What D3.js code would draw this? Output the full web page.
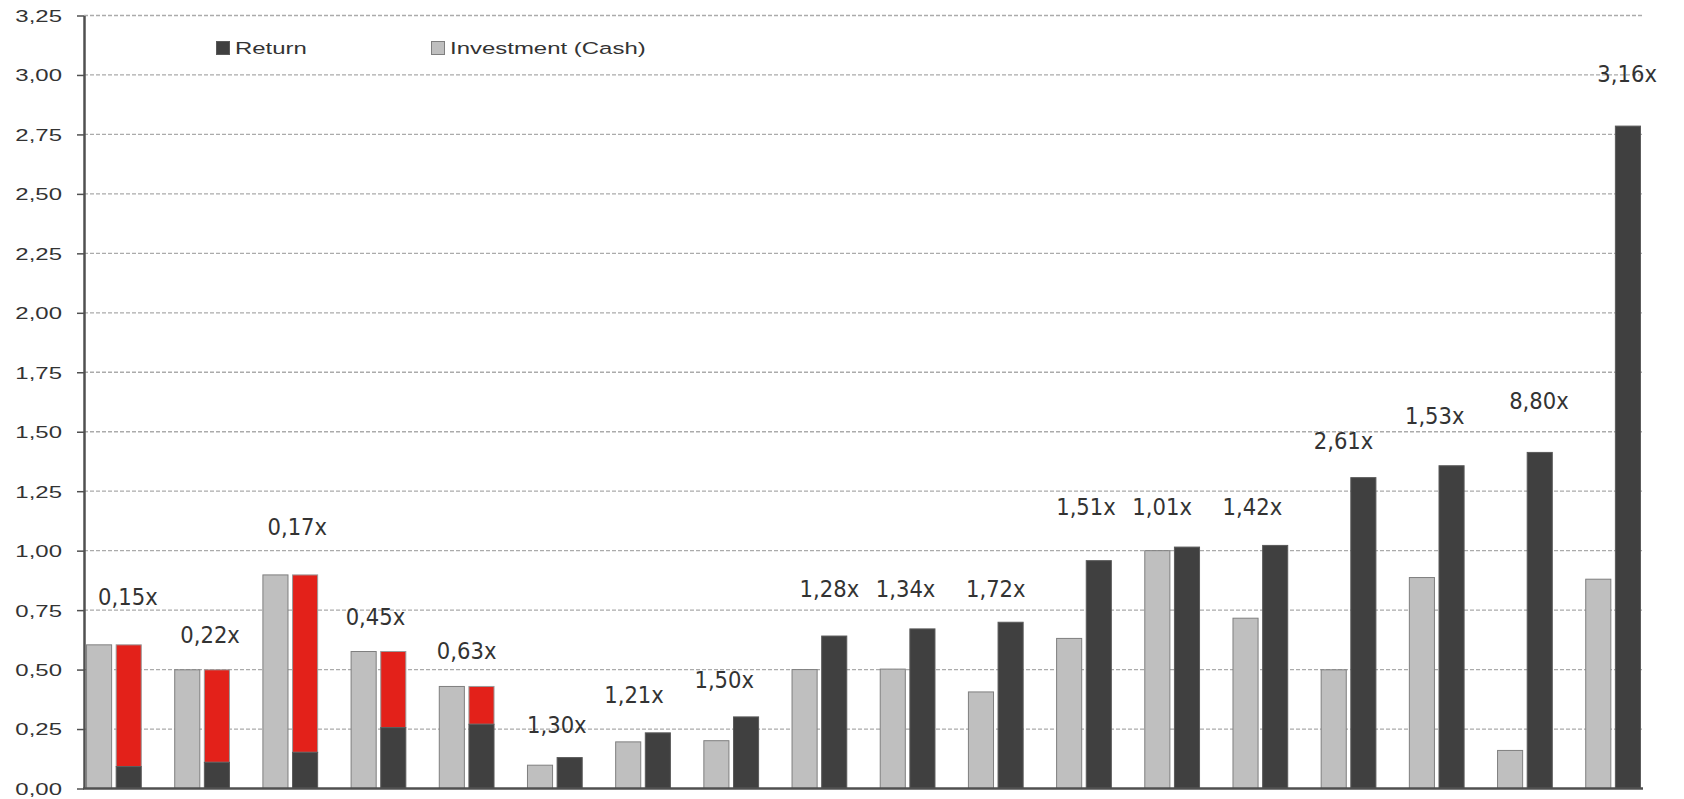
<!DOCTYPE html>
<html>
<head>
<meta charset="utf-8">
<script src="https://cdn.jsdelivr.net/npm/d3@7"></script>
<style>
  html, body { margin: 0; padding: 0; background: #fff; }
  svg { display: block; }
</style>
</head>
<body>
<svg id="chart" width="1684" height="799"></svg>
<script>
// ---------------- data ----------------
const categories = ["Deal 1","Deal 2","Deal 3","Deal 4","Deal 5","Deal 6","Deal 7","Deal 8","Deal 9",
                    "Deal 10","Deal 11","Deal 12","Deal 13","Deal 14","Deal 15","Deal 16","Deal 17","Deal 18"];
const investment = [0.604, 0.499, 0.898, 0.576, 0.429, 0.098, 0.196, 0.201, 0.500,
                    0.502, 0.406, 0.631, 1.000, 0.716, 0.499, 0.887, 0.160, 0.880];
const returns    = [0.092, 0.110, 0.152, 0.256, 0.270, 0.130, 0.234, 0.301, 0.641,
                    0.671, 0.699, 0.958, 1.015, 1.022, 1.307, 1.357, 1.413, 2.785];
const multiples  = ["0,15x","0,22x","0,17x","0,45x","0,63x","1,30x","1,21x","1,50x","1,28x",
                    "1,34x","1,72x","1,51x","1,01x","1,42x","2,61x","1,53x","8,80x","3,16x"];
const yTicks = [0, 0.25, 0.5, 0.75, 1, 1.25, 1.5, 1.75, 2, 2.25, 2.5, 2.75, 3, 3.25];
const seriesNames = ["Return", "Investment (Cash)"];

// ---------------- layout (manually placed data labels, like the original) ----------------
const labelLevel = [0.806, 0.649, 1.103, 0.722, 0.581, 0.270, 0.397, 0.459, 0.841,
                    0.841, 0.841, 1.187, 1.187, 1.187, 1.462, 1.569, 1.631, 3.007];
const labelNudge = [14, 8, 7, -3, 0, 2, -9, -7, 10, -2, 0, 2, -10, -8, -5, -2, 14, 14];

const colors = { invest: "#bfbfbf", investStroke: "#7f7f7f", ret: "#404040", retStroke: "#5a5a5a",
                 loss: "#e3211a", lossStroke: "#9a9a9a", grid: "#ababab", axis: "#505050", text: "#333333" };

const plot = { left: 84, right: 1643, top: 15.5, bottom: 788.5 };
const sx = 1.41; // horizontal stretch of the original's Arial text

const svg = d3.select("#chart");

const x0 = d3.scaleBand().domain(categories).range([plot.left, plot.right])
  .paddingInner(0.368).paddingOuter(0.023);
const x1 = d3.scaleBand().domain(["inv", "ret"]).range([0, x0.bandwidth()])
  .paddingInner(0.12).paddingOuter(0);
const y = d3.scaleLinear().domain([0, 3.25]).range([plot.bottom, plot.top]);

// gridlines
svg.append("g").selectAll("line").data(yTicks.filter(d => d > 0)).join("line")
  .attr("x1", plot.left).attr("x2", plot.right)
  .attr("y1", d => y(d)).attr("y2", d => y(d))
  .attr("stroke", colors.grid).attr("stroke-width", 1.3).attr("stroke-dasharray", "4,2");

// y axis via d3.axisLeft
const yAxis = d3.axisLeft(y).tickValues(yTicks).tickSize(7).tickSizeOuter(0)
  .tickFormat(d => d3.format(".2f")(d).replace(".", ","));
const gy = svg.append("g").attr("transform", `translate(${plot.left},0)`).call(yAxis);
gy.select(".domain").attr("stroke", colors.axis).attr("stroke-width", 2.5);
gy.selectAll(".tick line").attr("stroke", colors.axis).attr("stroke-width", 1.5);
gy.selectAll(".tick text")
  .attr("x", 0).attr("dy", "0.35em")
  .attr("transform", `translate(-22,0) scale(${sx},1)`)
  .attr("font-family", "'Liberation Sans', Arial, sans-serif")
  .attr("font-size", 17).attr("fill", colors.text).attr("text-anchor", "end");

const rows = categories.map((c, i) => ({ c, i, inv: investment[i], ret: returns[i] }));

const groups = svg.append("g").selectAll("g").data(rows).join("g")
  .attr("transform", d => `translate(${x0(d.c)},0)`);

// investment bars
groups.append("rect")
  .attr("x", x1("inv") + 0.5).attr("width", x1.bandwidth() - 1)
  .attr("y", d => y(d.inv)).attr("height", d => y(0) - y(d.inv))
  .attr("fill", colors.invest).attr("stroke", colors.investStroke).attr("stroke-width", 1);

// loss part (red) where return < investment
groups.filter(d => d.ret < d.inv).append("rect")
  .attr("x", x1("ret") + 0.5).attr("width", x1.bandwidth() - 1)
  .attr("y", d => y(d.inv)).attr("height", d => y(d.ret) - y(d.inv))
  .attr("fill", colors.loss).attr("stroke", colors.lossStroke).attr("stroke-width", 1);

// return bars
groups.append("rect")
  .attr("x", x1("ret") + 0.5).attr("width", x1.bandwidth() - 1)
  .attr("y", d => y(d.ret)).attr("height", d => y(0) - y(d.ret))
  .attr("fill", colors.ret).attr("stroke", colors.retStroke).attr("stroke-width", 1);

// x axis baseline
svg.append("line")
  .attr("x1", plot.left - 1).attr("x2", plot.right)
  .attr("y1", y(0)).attr("y2", y(0))
  .attr("stroke", colors.axis).attr("stroke-width", 2.5);

// data labels (multiples)
svg.append("g").selectAll("text").data(rows).join("text")
  .attr("transform", d => `translate(${x0(d.c) + x0.bandwidth() / 2 + labelNudge[d.i]},${y(labelLevel[d.i])}) scale(0.9,1)`)
  .attr("text-anchor", "middle").attr("dy", "0.36em")
  .attr("font-family", "'DejaVu Sans', sans-serif").attr("font-size", 23.5)
  .attr("fill", colors.text)
  .text(d => multiples[d.i]);

// legend
const legendItems = [
  { name: seriesNames[0], fill: colors.ret, stroke: colors.retStroke, x: 216 },
  { name: seriesNames[1], fill: colors.invest, stroke: colors.investStroke, x: 431 }
];
const lg = svg.append("g").selectAll("g").data(legendItems).join("g")
  .attr("transform", d => `translate(${d.x},41)`);
lg.append("rect").attr("x", 0.5).attr("y", 0.5).attr("width", 13).attr("height", 13)
  .attr("fill", d => d.fill).attr("stroke", d => d.stroke).attr("stroke-width", 1);
lg.append("text")
  .attr("transform", `translate(19,13) scale(${sx},1)`)
  .attr("font-family", "'Liberation Sans', Arial, sans-serif").attr("font-size", 17)
  .attr("fill", colors.text)
  .text(d => d.name);
</script>
</body>
</html>
